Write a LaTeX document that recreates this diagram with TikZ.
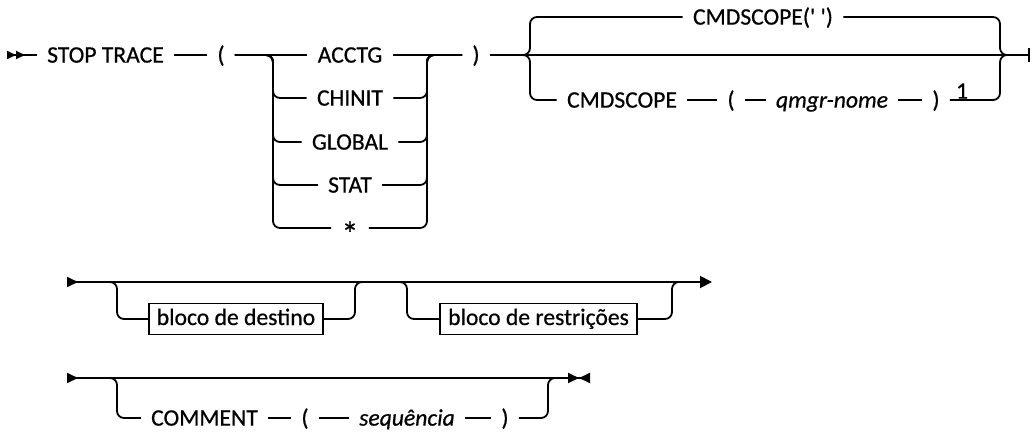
\documentclass[tikz,border=0pt]{standalone}
\usepackage{fontspec}
\setmainfont{Carlito}[FakeBold=0.6]
\usetikzlibrary{arrows.meta}

\begin{document}
\begin{tikzpicture}[
  x=0.5pt, y=-0.5pt,
  every node/.style={font=\fontsize{11.8}{14}\selectfont},
  kw/.style={inner xsep=5pt, inner ysep=1pt, text height=7.6pt, text depth=0pt},
  var/.style={kw, font=\fontsize{11.8}{14}\selectfont\itshape},
  blk/.style={draw, line width=0.9pt, inner xsep=4pt, inner ysep=0pt,
              text height=8pt, text depth=2pt, minimum height=15.5pt},
  rail/.style={draw, line width=0.9pt, rounded corners=3.5pt},
  sttip/.tip={Triangle[reversed, length=4.5pt, width=4pt, sep=0pt]},
  endtip/.tip={Triangle[length=5.5pt, width=5pt, sep=0pt]}
]
\useasboundingbox (0,0) rectangle (1032,434);

% first line
\coordinate (s1) at (7,55);
\node[kw] (stop) at (105.5,55) {STOP TRACE};
\node[kw] (lp) at (221,55) {(};
\node[kw] (acctg) at (350,55) {ACCTG};
\node[kw] (chinit) at (350,98) {CHINIT};
\node[kw] (global) at (350,142) {GLOBAL};
\node[kw] (stat) at (350,185) {STAT};
\node[kw] (star) at (350,228) {\raisebox{-5pt}{\fontsize{17}{17}\selectfont *}};
\node[kw] (rp) at (476,55) {)};
\coordinate (g1l) at (273,55);
\coordinate (g1r) at (427,55);

\draw[rail, {sttip[]sttip[]}-] (s1) -- (stop);
\draw[rail] (stop) -- (lp);
\draw[rail] (lp) -- (acctg);
\draw[rail] (acctg) -- (rp);
\foreach \row in {chinit, global, stat, star} {
  \draw[rail] (lp.east) -- (g1l) |- (\row.west);
  \draw[rail] (\row.east) -| (g1r) -- (rp.west);
}

\coordinate (b1) at (522,55);
\coordinate (b1v) at (530,55);
\coordinate (b2v) at (1000,55);
\coordinate (b2) at (1007,55);
\coordinate (e1) at (1030,55);
\node[kw] (dflt) at (763,17) {CMDSCOPE(\textquotesingle\ \textquotesingle)};
\node[kw] (cmd) at (622,100) {CMDSCOPE};
\node[kw] (lp2) at (731,100) {(};
\node[var] (qmgr) at (832,100) {qmgr-nome};
\node[kw] (rp2) at (936,100) {)};
\node[kw] (note) at (962,91) {1};

\draw[rail, -{Bar[width=7pt]}] (rp) -- (e1);
\draw[rail] (b1) -- (b1v) |- (dflt.west);
\draw[rail] (dflt.east) -| (b2v) -- (b2);
\draw[rail] (b1) -- (b1v) |- (cmd.west);
\draw[rail] (cmd) -- (lp2);
\draw[rail] (lp2) -- (qmgr);
\draw[rail] (qmgr) -- (rp2);
\draw[rail] (rp2.east) -| (b2v) -- (b2);

% second line
\coordinate (s2) at (67,282);
\coordinate (e2) at (712,282);
\coordinate (o1l) at (117,282);
\coordinate (o1r) at (355,282);
\coordinate (o2l) at (407,282);
\coordinate (o2r) at (672,282);
\coordinate (m2) at (690,282);
\node[blk] (dest) at (236,319) {bloco de destino};
\node[blk] (restr) at (538.5,319) {bloco de restrições};

\draw[rail, {Triangle[reversed, length=5.5pt, width=5pt]}-{Triangle[length=6pt, width=6pt]}] (s2) -- (e2);
\draw[rail] (s2) -- (o1l) |- (dest.west);
\draw[rail] (dest.east) -| (o1r) -- (o2l) |- (restr.west);
\draw[rail] (restr.east) -| (o2r) -- (m2);

% third line
\coordinate (s3) at (67,378);
\coordinate (e3) at (590,378);
\coordinate (o3l) at (117,378);
\coordinate (o3r) at (548,378);
\coordinate (m3) at (560,378);
\node[kw] (cmt) at (204.5,418) {COMMENT};
\node[kw] (lp3) at (305,418) {(};
\node[var] (seq) at (407,418) {sequência};
\node[kw] (rp3) at (505,418) {)};

\draw[rail, {Triangle[reversed, length=5.5pt, width=5pt]}-{endtip[]endtip[reversed]}] (s3) -- (e3);
\draw[rail] (s3) -- (o3l) |- (cmt.west);
\draw[rail] (cmt) -- (lp3);
\draw[rail] (lp3) -- (seq);
\draw[rail] (seq) -- (rp3);
\draw[rail] (rp3.east) -| (o3r) -- (m3);
\end{tikzpicture}
\end{document}
